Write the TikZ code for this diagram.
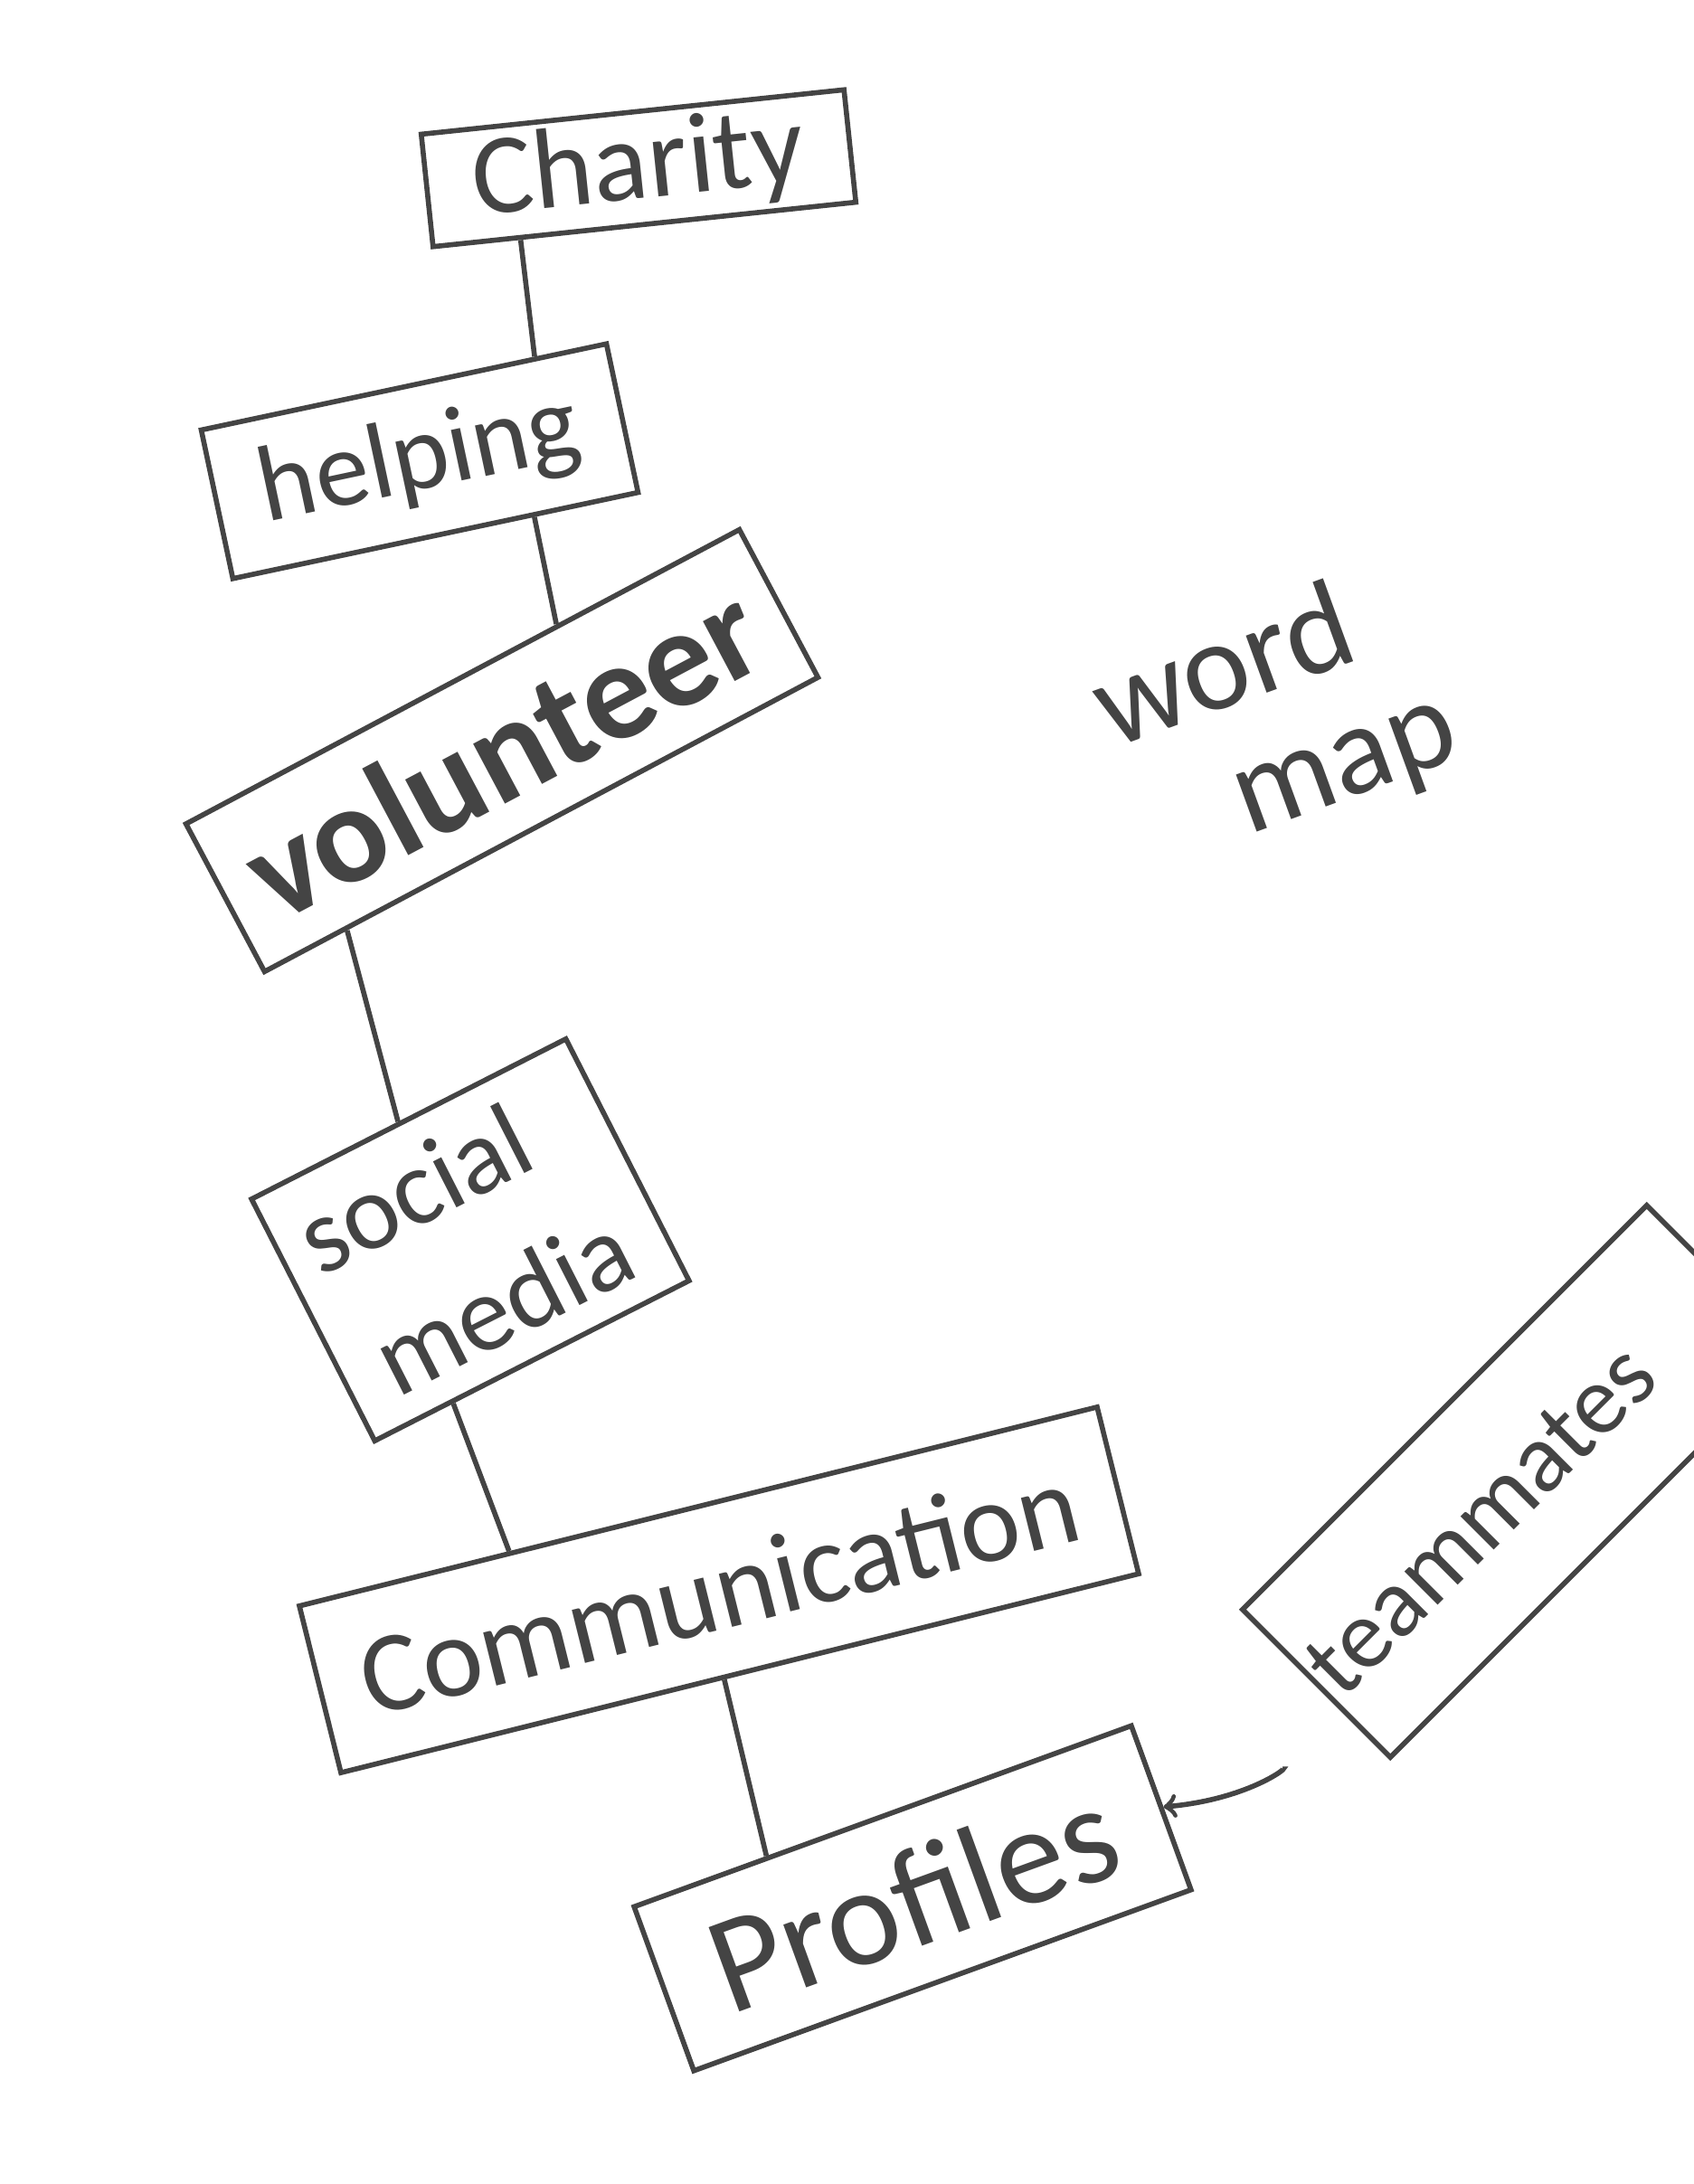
\documentclass[tikz,border=0pt]{standalone}
\usepackage{fontspec}
\setmainfont{Carlito}
\usepackage{tikz}
\usetikzlibrary{arrows, positioning, calc}
\definecolor{inkcolor}{RGB}{68,68,68}

\begin{document}
\begin{tikzpicture}[
    >=to,
    wordbox/.style={rectangle, draw=inkcolor, line width=1.6pt, text=inkcolor, inner sep=0pt, align=center},
    link/.style={draw=inkcolor, line width=1.6pt}
]
\useasboundingbox (0,0) rectangle (18.72,-24.15);

% word boxes
\node[wordbox, minimum width=4.7cm, minimum height=1.25cm, rotate=6, font=\fontsize{36}{36}\selectfont] (charity) at (7.06,-1.86) {Charity};
\node[wordbox, minimum width=4.58cm, minimum height=1.68cm, rotate=12, font=\fontsize{34}{34}\selectfont] (helping) at (4.64,-5.10) {helping};
\node[wordbox, minimum width=6.93cm, minimum height=1.85cm, rotate=28, font=\fontsize{44}{44}\selectfont\bfseries] (volunteer) at (5.55,-8.30) {volunteer};
\node[wordbox, minimum width=3.9cm, minimum height=3.0cm, rotate=27, font=\fontsize{34}{45}\selectfont] (social) at (5.20,-13.71) {\hspace*{-0.6cm}social\\media};
\node[wordbox, minimum width=9.09cm, minimum height=1.9cm, rotate=14, font=\fontsize{36}{36}\selectfont] (communication) at (7.95,-17.58) {Communication};
\node[wordbox, minimum width=5.85cm, minimum height=1.93cm, rotate=20, font=\fontsize{44}{44}\selectfont] (profiles) at (10.09,-20.99) {Profiles};
\node[wordbox, minimum width=6.32cm, minimum height=2.31cm, rotate=45, font=\fontsize{31}{31}\selectfont] (teammates) at (16.79,-16.38) {\hspace*{-1.2cm}teammates};

% title
\node[text=inkcolor, align=center, rotate=20, font=\fontsize{40}{40}\selectfont] (wordmap) at (13.79,-8.09) {word\\\hspace*{1.78cm}map};

% links
\draw[link] ($(charity.south west)!0.21!(charity.south east)$) -- ($(helping.north west)!0.82!(helping.north east)$);
\draw[link] ($(helping.south west)!0.74!(helping.south east)$) -- ($(volunteer.north west)!0.67!(volunteer.north east)$);
\draw[link] ($(volunteer.south west)!0.15!(volunteer.south east)$) -- ($(social.north west)!0.47!(social.north east)$);
\draw[link] ($(social.south west)!0.25!(social.south east)$) -- ($(communication.north west)!0.265!(communication.north east)$);
\draw[link] ($(communication.south west)!0.48!(communication.south east)$) -- ($(profiles.north west)!0.27!(profiles.north east)$);
\draw[link, ->, shorten <=1cm] ($(teammates.north west)!0.85!(teammates.south west)$) to[out=200, in=5] (profiles.east);
\end{tikzpicture}
\end{document}
